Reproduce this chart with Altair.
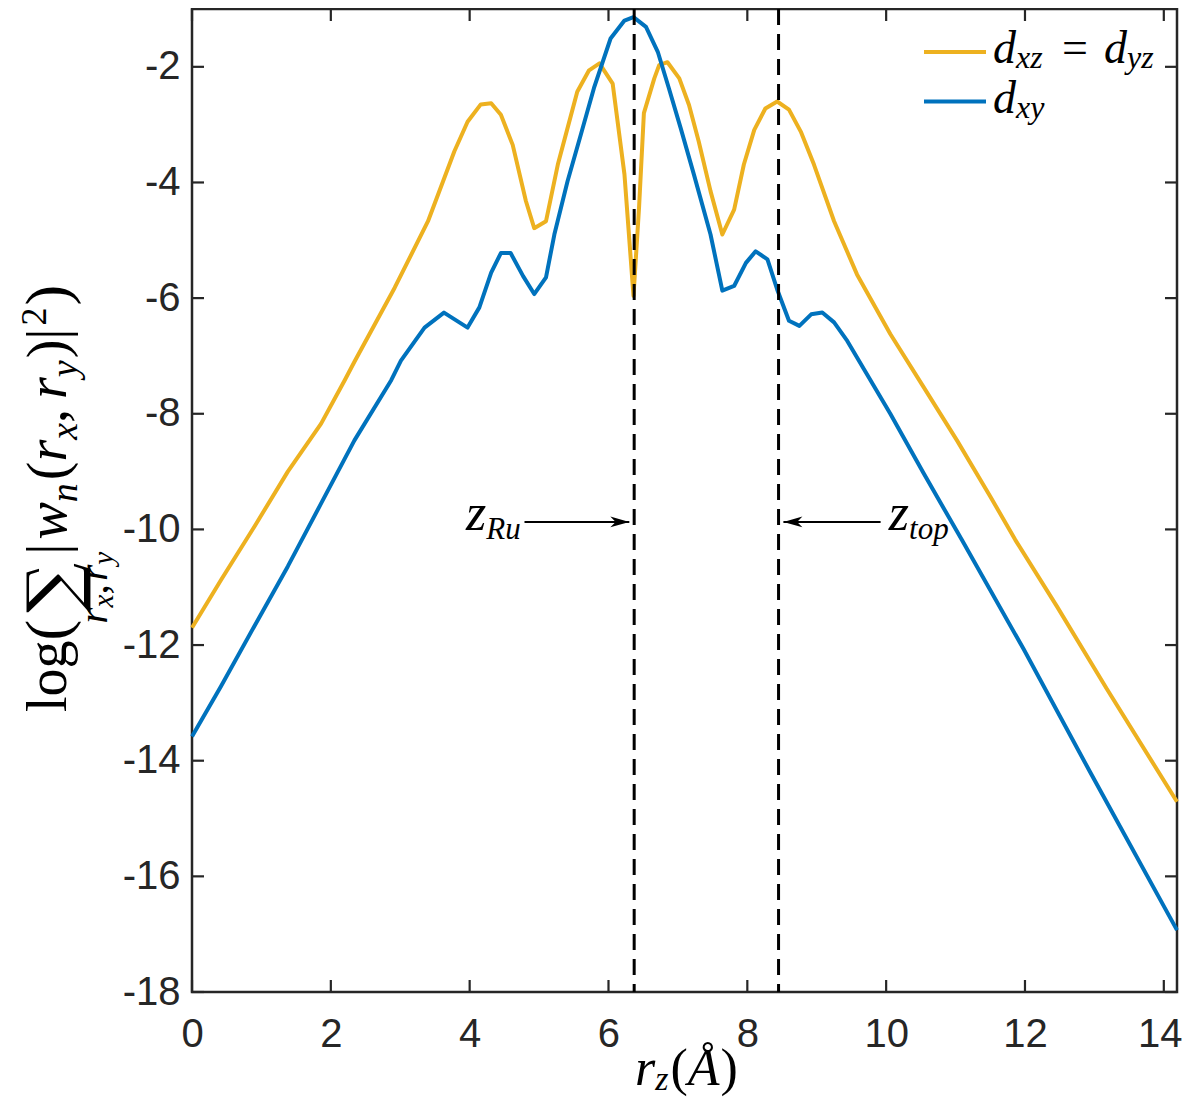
import altair as alt
import pandas as pd

# ---------------- data ----------------
x_dxz = [0.00, 0.42, 0.90, 1.38, 1.86, 2.20, 2.34, 2.92, 3.40, 3.78, 3.97, 4.16, 4.31, 4.45,
         4.62, 4.81, 4.93, 5.10, 5.27, 5.41, 5.55, 5.72, 5.87, 6.06, 6.23, 6.36, 6.44, 6.51,
         6.66, 6.73, 6.85, 7.02, 7.16, 7.30, 7.47, 7.64, 7.81, 7.95, 8.10, 8.26, 8.43, 8.60,
         8.77, 8.96, 9.25, 9.58, 10.06, 10.54, 11.02, 11.50, 11.86, 12.46, 13.18, 14.19]
y_dxz = [-11.70, -10.87, -9.95, -9.00, -8.17, -7.42, -7.10, -5.82, -4.67, -3.46, -2.95, -2.65,
         -2.63, -2.83, -3.35, -4.32, -4.79, -4.67, -3.69, -3.06, -2.43, -2.06, -1.94, -2.29,
         -3.86, -5.96, -4.44, -2.80, -2.20, -1.97, -1.92, -2.20, -2.66, -3.29, -4.15, -4.90,
         -4.47, -3.69, -3.09, -2.72, -2.60, -2.74, -3.12, -3.69, -4.67, -5.59, -6.62, -7.54,
         -8.46, -9.43, -10.18, -11.33, -12.76, -14.71]

x_dxy = [0.00, 0.42, 0.90, 1.38, 1.86, 2.34, 2.87, 3.01, 3.35, 3.63, 3.97, 4.14, 4.31, 4.45,
         4.59, 4.77, 4.93, 5.10, 5.22, 5.41, 5.60, 5.79, 6.03, 6.23, 6.36, 6.54, 6.71, 6.87,
         7.04, 7.23, 7.47, 7.64, 7.81, 7.98, 8.12, 8.29, 8.43, 8.60, 8.75, 8.92, 9.08, 9.25,
         9.44, 10.06, 10.54, 11.09, 11.98, 12.94, 14.19]
y_dxy = [-13.58, -12.71, -11.67, -10.64, -9.55, -8.46, -7.42, -7.08, -6.51, -6.25, -6.51,
         -6.16, -5.56, -5.22, -5.22, -5.62, -5.93, -5.64, -4.90, -3.98, -3.18, -2.37, -1.51,
         -1.20, -1.14, -1.31, -1.74, -2.37, -3.06, -3.86, -4.90, -5.87, -5.79, -5.39, -5.19,
         -5.33, -5.85, -6.39, -6.48, -6.28, -6.25, -6.42, -6.74, -8.00, -9.03, -10.18, -12.07,
         -14.20, -16.93]

x_ticks = [0, 2, 4, 6, 8, 10, 12, 14]
y_ticks = [-18, -16, -14, -12, -10, -8, -6, -4, -2]
x_domain = [0, 14.19]
y_domain = [-18, -1]

marker_names = ["Ru", "top"]
marker_z = [6.37, 8.45]
arrow_tail_x = [4.79, 9.92]
arrow_tip_x = [6.30, 8.52]
arrow_dir = ["right", "left"]
arrow_y = [-9.87, -9.87]
label_x = [4.24, 10.33]
label_y = [-10.01, -10.01]
label_main = ["z", "z"]
label_sub = ["Ru", "top"]

legend_row1 = ["d", "xz", "=", "d", "yz"]
legend_row2 = ["d", "xy"]
ytitle_text = ["log", "(", "∑", "|", "w", "n", "(", "r", "x", ",", "r", "y", ")", "|", "2", ")"]
ysum_sub = ["r", "x", ",", "r", "y"]
xtitle_text = ["r", "z", "(", "Å", ")"]

# ---------------- layout / style ----------------
PADL, PADR, PADT, PADB = 184, 5, 1, 106
W, H = 985, 983
OX, OY = 8 + PADL, 8 + PADT          # page position of plot origin
INK = "#262626"
ORANGE = "#EDB120"
BLUE = "#0072BD"
SERIF = "Liberation Serif"

ROM = {"l": .278, "o": .5, "g": .5, "(": .333, ")": .333, "|": .2, "2": .5, ",": .25,
       " ": .25, "=": .564}
ITA = {"w": .667, "r": .389, "x": .444, "y": .444, "n": .5, "z": .389, "d": .5, "t": .278,
       "o": .5, "p": .5, "R": .611, "u": .5, "Å": .611}


def tw(s, style, size):
    d = ITA if style == "italic" else ROM
    return sum(d.get(c, .5) for c in s) * size


def txt(s, px, py, size, style="italic", angle=0, align="left", baseline="alphabetic",
        font=SERIF, color="black"):
    return alt.Chart(pd.DataFrame({"t": [s]})).mark_text(
        font=font, fontSize=size, fontStyle=style, angle=angle, align=align,
        baseline=baseline, color=color
    ).encode(x=alt.value(px - OX), y=alt.value(py - OY), text=alt.Text("t:N"))


xs = alt.Scale(domain=x_domain, nice=False, zero=False)
ys = alt.Scale(domain=y_domain, nice=False, zero=False)

axis_x = alt.Axis(values=x_ticks, ticks=False, domain=False, grid=False, title=None,
                  labelFont="Liberation Sans", labelFontSize=40, labelColor=INK,
                  labelPadding=22, labelExpr="'' + datum.value", labelFlush=False,
                  labelOverlap=False,
                  labelOffset={"condition": {"test": "datum.value == 14", "value": -4},
                               "value": 0})
axis_y = alt.Axis(values=y_ticks, ticks=False, domain=False, grid=False, title=None,
                  labelFont="Liberation Sans", labelFontSize=40, labelColor=INK,
                  labelPadding=12, labelExpr="'' + datum.value", labelFlush=False,
                  labelOverlap=False)

layers = []

# curves
df_dxz = pd.DataFrame({"x": x_dxz, "y": y_dxz})
df_dxy = pd.DataFrame({"x": x_dxy, "y": y_dxy})
layers.append(alt.Chart(df_dxz).mark_line(color=ORANGE, strokeWidth=4, strokeJoin="round").encode(
    x=alt.X("x:Q", scale=xs, axis=axis_x), y=alt.Y("y:Q", scale=ys, axis=axis_y)))
layers.append(alt.Chart(df_dxy).mark_line(color=BLUE, strokeWidth=4, strokeJoin="round").encode(
    x=alt.X("x:Q", scale=xs, axis=axis_x), y=alt.Y("y:Q", scale=ys, axis=axis_y)))

# dashed markers
df_m = pd.DataFrame({"z": marker_z, "name": marker_names})
layers.append(alt.Chart(df_m).mark_rule(color="black", strokeWidth=3, strokeDash=[16, 9]).encode(
    x=alt.X("z:Q", scale=xs, axis=axis_x), y=alt.value(0), y2=alt.value(H)))

# arrows
df_a = pd.DataFrame({"x1": arrow_tail_x, "x2": arrow_tip_x, "y": arrow_y, "dir": arrow_dir})
layers.append(alt.Chart(df_a).mark_rule(color="black", strokeWidth=2).encode(
    x=alt.X("x1:Q", scale=xs, axis=axis_x), x2="x2:Q",
    y=alt.Y("y:Q", scale=ys, axis=axis_y)))
path_r = "M0,0L-1,-0.28L-0.72,0L-1,0.28Z"
path_l = "M0,0L1,-0.28L0.72,0L1,0.28Z"
layers.append(alt.Chart(df_a).mark_point(filled=True, color="black", opacity=1, size=1444,
                                         strokeWidth=0).encode(
    x=alt.X("x2:Q", scale=xs, axis=axis_x), y=alt.Y("y:Q", scale=ys, axis=axis_y),
    shape=alt.Shape("dir:N", scale=alt.Scale(domain=["right", "left"], range=[path_r, path_l]),
                    legend=None)))

# annotation labels
df_l = pd.DataFrame({"x": label_x, "y": label_y, "m": label_main, "s": label_sub})
layers.append(alt.Chart(df_l).mark_text(font=SERIF, fontStyle="italic", fontSize=52, align="right",
                                        baseline="alphabetic", color="black").encode(
    x=alt.X("x:Q", scale=xs, axis=axis_x), y=alt.Y("y:Q", scale=ys, axis=axis_y), text="m:N"))
layers.append(alt.Chart(df_l).mark_text(font=SERIF, fontStyle="italic", fontSize=31, align="left",
                                        baseline="alphabetic", color="black", dy=9).encode(
    x=alt.X("x:Q", scale=xs, axis=axis_x), y=alt.Y("y:Q", scale=ys, axis=axis_y), text="s:N"))

# inward ticks on all four sides
df_xt = pd.DataFrame({"t": x_ticks})
df_yt = pd.DataFrame({"t": y_ticks})
TL = 12
layers.append(alt.Chart(df_xt).mark_rule(color=INK, strokeWidth=2.2).encode(
    x=alt.X("t:Q", scale=xs, axis=axis_x), y=alt.value(H), y2=alt.value(H - TL)))
layers.append(alt.Chart(df_xt).mark_rule(color=INK, strokeWidth=2.2).encode(
    x=alt.X("t:Q", scale=xs, axis=axis_x), y=alt.value(0), y2=alt.value(TL)))
layers.append(alt.Chart(df_yt).mark_rule(color=INK, strokeWidth=2.2).encode(
    y=alt.Y("t:Q", scale=ys, axis=axis_y), x=alt.value(0), x2=alt.value(TL)))
layers.append(alt.Chart(df_yt).mark_rule(color=INK, strokeWidth=2.2).encode(
    y=alt.Y("t:Q", scale=ys, axis=axis_y), x=alt.value(W), x2=alt.value(W - TL)))

# legend
for color, ly in [(ORANGE, 52), (BLUE, 101.5)]:
    layers.append(alt.Chart(pd.DataFrame({"c": [color]})).mark_rule(color=color, strokeWidth=4).encode(
        x=alt.value(924 - OX), x2=alt.value(986 - OX), y=alt.value(ly - OY)))
layers.append(txt(legend_row1[0], 993, 63, 46))
layers.append(txt(legend_row1[1], 1016, 68, 32))
layers.append(txt(legend_row1[2], 1075, 63, 46, style="normal", align="center"))
layers.append(txt(legend_row1[3], 1104, 63, 46))
layers.append(txt(legend_row1[4], 1127, 68, 32))
layers.append(txt(legend_row2[0], 993, 113, 46))
layers.append(txt(legend_row2[1], 1016, 118, 32))

# y-axis title (rotated, composed of pieces)
BX = 66
yspec = [("normal", 56, 0, 0), ("normal", 62, 2, 0), None, ("normal", 56, 0, 3),
         ("italic", 56, 0, 4), ("italic", 38, 11, 0), ("normal", 56, 0, 3), ("italic", 56, 0, 0),
         ("italic", 38, 11, 0), ("normal", 56, 0, 0), ("italic", 56, 0, 10), ("italic", 38, 11, 0),
         ("normal", 56, 0, 2), ("normal", 56, 0, 0), ("normal", 36, -20, 3), ("normal", 62, 2, 2)]
yy = 712
for s, spec in zip(ytitle_text, yspec):
    if spec is None:
        yy -= 4
        cy = yy - 28
        layers.append(txt(s, 56, cy, 70, style="normal", angle=270, align="center",
                          baseline="middle", font="DejaVu Serif"))
        sub_spec = [("italic", 42, 0, 0), ("italic", 29, 6, 0), ("normal", 42, 0, 0),
                    ("italic", 42, 0, 3), ("italic", 29, 6, 0)]
        total = sum(tw(t, st, sz) + g for t, (st, sz, sh, g) in zip(ysum_sub, sub_spec))
        sy = cy + total / 2
        for t, (st, sz, sh, g) in zip(ysum_sub, sub_spec):
            sy -= g
            layers.append(txt(t, 107 + sh, sy, sz, style=st, angle=270))
            sy -= tw(t, st, sz)
        yy -= 58
        continue
    st, sz, sh, g = spec
    yy -= g
    layers.append(txt(s, BX + sh, yy, sz, style=st, angle=270))
    yy -= tw(s, st, sz)

# x-axis title
xspec = [("italic", 52, 0, 0), ("italic", 34, 5, 0), ("normal", 52, 0, 2), ("italic", 52, 0, 0),
         ("normal", 52, 0, 1)]
xx = 635
for s, (st, sz, sh, g) in zip(xtitle_text, xspec):
    xx += g
    layers.append(txt(s, xx, 1085 + sh, sz, style=st))
    xx += tw(s, st, sz)

chart = alt.layer(*layers).properties(
    width=W, height=H,
    autosize=alt.AutoSizeParams(type="none"),
    padding={"left": PADL, "top": PADT, "right": PADR, "bottom": PADB},
    background="white",
).configure_view(stroke=INK, strokeWidth=2.5)

chart.save("out.html", embed_options={"renderer": "svg", "actions": False})
